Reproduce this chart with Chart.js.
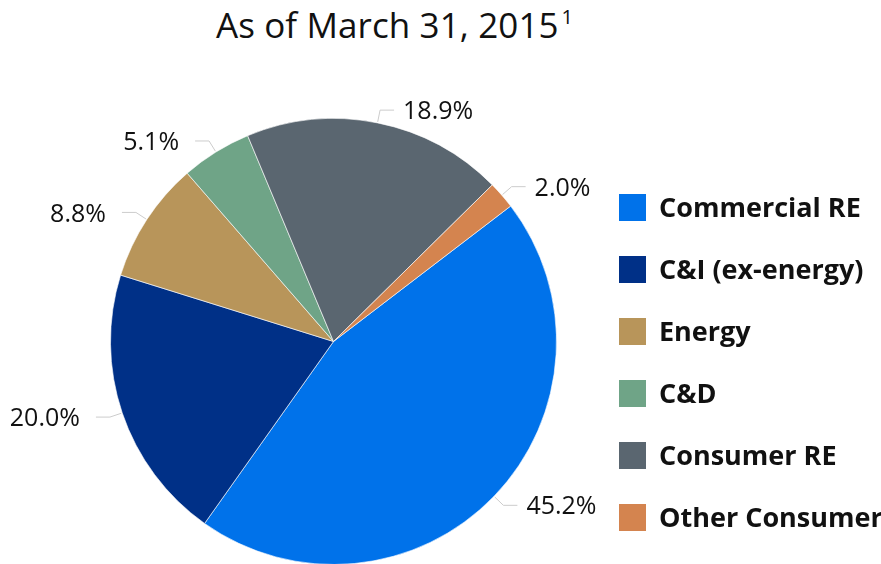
<!DOCTYPE html>
<html>
<head>
<meta charset="utf-8">
<script src="https://cdn.jsdelivr.net/npm/chart.js@4/dist/chart.umd.min.js"></script>
<style>
  html, body { margin: 0; padding: 0; background: #fff; }
  body { width: 881px; height: 564px; overflow: hidden; position: relative; font-family: "Open Sans", sans-serif; }
  #title { position: absolute; left: 216px; top: 7px; font-size: 35px; line-height: 35px; color: #111; white-space: nowrap; letter-spacing: 0.1px; }
  #title sup { font-size: 20px; vertical-align: 14px; line-height: 0; margin-left: 3px; }
  #chart { position: absolute; left: 0; top: 0; }
  #legend { position: absolute; left: 619px; top: 0; }
  .lg-row { position: absolute; left: 0; white-space: nowrap; height: 28px; }
  .lg-box { position: absolute; left: 0; top: 0; width: 27px; height: 27px; }
  .lg-lbl { position: absolute; left: 40px; top: -4px; font-size: 27px; line-height: 34px; font-weight: 700; color: #111; }
</style>
</head>
<body>
<div id="title">As of March 31, 2015<sup>1</sup></div>
<canvas id="chart" width="881" height="600"></canvas>
<div id="legend"></div>
<script>
/* Loan portfolio mix pie — slice labels w/ leader lines drawn by a plugin,
 * legend is plain HTML on the right. */
var categories = ['Commercial RE', 'C&I (ex-energy)', 'Energy', 'C&D', 'Consumer RE', 'Other Consumer'];
var shares     = [45.2, 20.0, 8.8, 5.1, 18.9, 2.0];
var colors     = ['#0072EA', '#003087', '#B8955A', '#6FA487', '#5A6670', '#D4844F'];

var leaderPlugin = {
  id: 'leaders',
  afterDatasetsDraw: function (chart) {
    var ctx = chart.ctx;
    var meta = chart.getDatasetMeta(0);
    ctx.save();
    ctx.font = '25px "Open Sans", sans-serif';
    ctx.textBaseline = 'middle';
    meta.data.forEach(function (arc, i) {
      var mid = (arc.startAngle + arc.endAngle) / 2;
      var cx = Math.cos(mid), cy = Math.sin(mid);
      var r = arc.outerRadius;
      var x0 = arc.x + cx * (r + 1), y0 = arc.y + cy * (r + 1);
      var x1 = arc.x + cx * (r + 13), y1 = arc.y + cy * (r + 13);
      var right = cx >= 0;
      var x2 = x1 + (right ? 14 : -14);
      ctx.strokeStyle = '#cccccc';
      ctx.lineWidth = 1;
      ctx.beginPath();
      ctx.moveTo(x0, y0);
      ctx.lineTo(x1, y1);
      ctx.lineTo(x2, y1);
      ctx.stroke();
      ctx.fillStyle = '#111';
      ctx.textAlign = right ? 'left' : 'right';
      ctx.fillText(shares[i].toFixed(1) + '%', x2 + (right ? 9 : -16), y1 + 2);
    });
    ctx.restore();
  }
};

var chart = new Chart(document.getElementById('chart').getContext('2d'), {
  type: 'pie',
  data: {
    labels: categories,
    datasets: [{
      data: shares,
      backgroundColor: colors,
      borderColor: 'rgba(255,255,255,0.6)',
      borderWidth: 1
    }]
  },
  options: {
    responsive: false,
    animation: false,
    rotation: 52.6,
    layout: { padding: { top: 118, bottom: 35, left: 110, right: 324 } },
    plugins: {
      legend: { display: false },
      tooltip: { enabled: false }
    }
  },
  plugins: [leaderPlugin]
});

// HTML legend
var legend = document.getElementById('legend');
categories.forEach(function (name, i) {
  var row = document.createElement('div');
  row.className = 'lg-row';
  row.style.top = (194 + i * 62) + 'px';
  var box = document.createElement('span');
  box.className = 'lg-box';
  box.style.background = colors[i];
  var lbl = document.createElement('span');
  lbl.className = 'lg-lbl';
  lbl.textContent = name;
  row.appendChild(box);
  row.appendChild(lbl);
  legend.appendChild(row);
});
</script>
</body>
</html>
